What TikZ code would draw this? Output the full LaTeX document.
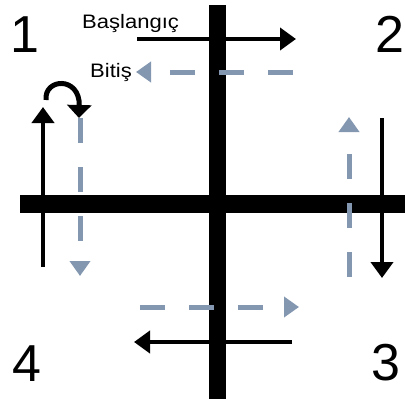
\documentclass[tikz,border=0pt]{standalone}
\usepackage{fontspec}
\setmainfont{Liberation Sans}
\usetikzlibrary{arrows.meta}
\definecolor{dashblue}{HTML}{8497B0}
\begin{document}
\begin{tikzpicture}[x=1pt,y=-1pt,
  bar/.style={line width=17pt},
  blackarrow/.style={line width=4.5pt,-{Triangle[length=16pt,width=22pt]}},
  bluearrow/.style={line width=5pt,dashblue,dash pattern=on 25pt off 24pt,-{Triangle[length=15pt,width=20pt]}},
  num/.style={font=\fontsize{52}{52}\selectfont,anchor=base,inner sep=0pt},
  lbl/.style={font=\fontsize{19.5}{20}\selectfont,anchor=base west,inner sep=0pt,xscale=1.13}]
\useasboundingbox (0,0) rectangle (405,399);
% bars
\coordinate (vt) at (217.5,5);
\coordinate (vb) at (217.5,399);
\coordinate (hl) at (20,204);
\coordinate (hr) at (405,204);
\draw[bar] (vt) -- (vb);
\draw[bar,line width=18pt] (hl) -- (hr);
% numbers
\node[num] (n1) at (25,52) {1};
\node[num] (n2) at (390,52) {2};
\node[num] (n3) at (386,380) {3};
\node[num] (n4) at (27,381) {4};
% labels
\node[lbl] (start) at (82,28) {Başlangıç};
\node[lbl] (end) at (90,77) {Bitiş};
% top arrows
\coordinate (t1) at (137,39);
\coordinate (t2) at (296,39);
\draw[blackarrow] (t1) -- (t2);
\coordinate (b1) at (293,72);
\coordinate (b2) at (136,72);
\draw[bluearrow] (b1) -- (b2);
% left arrows
\coordinate (l1) at (43,267);
\coordinate (l2) at (43,107);
\draw[blackarrow] (l1) -- (l2);
\coordinate (c1) at (46,100);
\coordinate (c2) at (79,118);
\draw[line width=5pt,-{Triangle[length=13pt,width=24pt]}] (c1) .. controls (44,78) and (80,76) .. (c2);
\coordinate (ld1) at (80,118);
\coordinate (ld2) at (80,276);
\draw[bluearrow] (ld1) -- (ld2);
% right arrows
\coordinate (rd1) at (349,277);
\coordinate (rd2) at (349,117);
\draw[bluearrow] (rd1) -- (rd2);
\coordinate (r1) at (382,118);
\coordinate (r2) at (382,278);
\draw[blackarrow] (r1) -- (r2);
% bottom arrows
\coordinate (bd1) at (140,307);
\coordinate (bd2) at (299,307);
\draw[bluearrow] (bd1) -- (bd2);
\coordinate (bb1) at (292,342);
\coordinate (bb2) at (134,342);
\draw[blackarrow] (bb1) -- (bb2);
\end{tikzpicture}
\end{document}
